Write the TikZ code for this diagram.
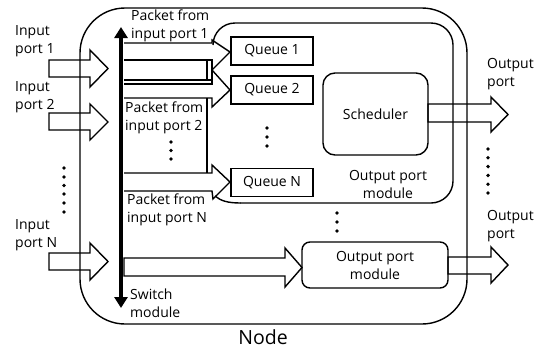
\documentclass[tikz,border=0pt]{standalone}
\usepackage{fontspec}
\setmainfont{Open Sans}
\usetikzlibrary{arrows.meta}
\begin{document}
\begin{tikzpicture}[x=1pt,y=-1pt,
  ln/.style={line width=1.4pt, line join=miter},
  txt/.style={inner sep=0pt, font=\fontsize{14}{18}\selectfont},
  lbl/.style={txt, align=left, anchor=west},
  qbox/.style={draw, ln, txt, minimum width=82pt, minimum height=28pt},
  rbox/.style={draw, ln, txt, align=center},
  dot/.style={fill=black, draw=none, circle, minimum size=3.8pt, inner sep=0pt}]

\useasboundingbox (0,0) rectangle (546,349);

% block arrow: x start, head base x, tip x, shaft top, shaft bottom, head top, head bottom
\newcommand\blockarrow[7]{%
  \draw[ln] (#1,#4) -- (#2,#4) -- (#2,#6) -- (#3,{(#6+#7)/2}) -- (#2,#7) -- (#2,#5) -- (#1,#5) -- cycle;}

% input ports
\blockarrow{49}{90}{108}{60}{77}{50}{87}
\blockarrow{49}{90}{108}{113}{130}{104}{140}
\blockarrow{49}{90}{108}{253}{270}{243}{280}

% switch fabric towards the queues
\draw[ln] (124,43) -- (212,43) -- (212,40) -- (230,52) -- (212,70) -- (230,90) -- (212,107) -- (212,98) -- (124,98);
\draw[ln] (124,60) -- (212,60) -- (212,84) -- (124,84);
\draw[ln] (124,80) -- (212,80);
\draw[ln] (207,60) -- (207,80);
\draw[ln] (207,98) -- (207,173);
\draw[ln] (124,173) -- (212,173) -- (212,165) -- (230,182) -- (213,199) -- (212,191) -- (124,191);

% towards the lower output port module
\blockarrow{124}{285}{302}{258}{276}{248}{287}

% queues and scheduler
\node[qbox] (q1) at (272,51) {Queue 1};
\node[qbox] (q2) at (272,90) {Queue 2};
\node[qbox] (qn) at (272,182.5) {Queue N};
\node[rbox, rounded corners=12pt, minimum width=105pt, minimum height=82pt] (sch) at (375.5,114) {Scheduler};
\node[rbox, rounded corners=8pt, minimum width=146pt, minimum height=46pt] (opm2) at (375,265) {Output port\\module};

% output ports
\blockarrow{428}{491}{508}{104}{122}{97}{132}
\blockarrow{448}{491}{508}{257}{274}{247}{283}

% output port module outline
\draw[ln, rounded corners=22pt] (213,45) -- (213,23) -- (453,23) -- (453,203) -- (240,203);
\draw[ln] (240.7,203) .. controls (228,203) and (221,201) .. (215,196);

% node outline
\draw[ln, rounded corners=45pt] (80,8) rectangle (467,324);

% switch module
\coordinate (swtop) at (121,27);
\coordinate (swbot) at (121,308);
\draw[line width=4.5pt, {Triangle[width=13pt,length=11pt]}-{Triangle[width=13pt,length=11pt]}] (swtop) -- (swbot);

% labels
\node[lbl] (l1) at (15,41) {Input\\port 1};
\node[lbl] (l2) at (15,97) {Input\\port 2};
\node[lbl] (l3) at (15,235) {Input\\port N};
\node[lbl] (p1) at (131,26) {Packet from\\input port 1};
\node[lbl] (p2) at (125,118) {Packet from\\input port 2};
\node[lbl] (p3) at (127,210) {Packet from\\input port N};
\node[lbl] (sw) at (130,303) {Switch\\module};
\node[lbl] (o1) at (487,74) {Output\\port};
\node[lbl] (o2) at (487,226) {Output\\port};
\node[txt, align=center] (opm1) at (388,184) {Output port\\module};
\node[inner sep=0pt, font=\fontsize{19.5}{22}\selectfont] (nd) at (263,337.5) {Node};

% ellipses
\foreach \y in {168,177,185.5,194,203,212} \node[dot] at (64,\y) {};
\foreach \y in {142,150.5,159} \node[dot] at (171,\y) {};
\foreach \y in {128,137,146} \node[dot] at (267,\y) {};
\foreach \y in {149,157.8,166.6,175.4,184.2,193} \node[dot] at (488,\y) {};
\foreach \y in {213,222,231} \node[dot] at (337,\y) {};
\end{tikzpicture}
\end{document}
